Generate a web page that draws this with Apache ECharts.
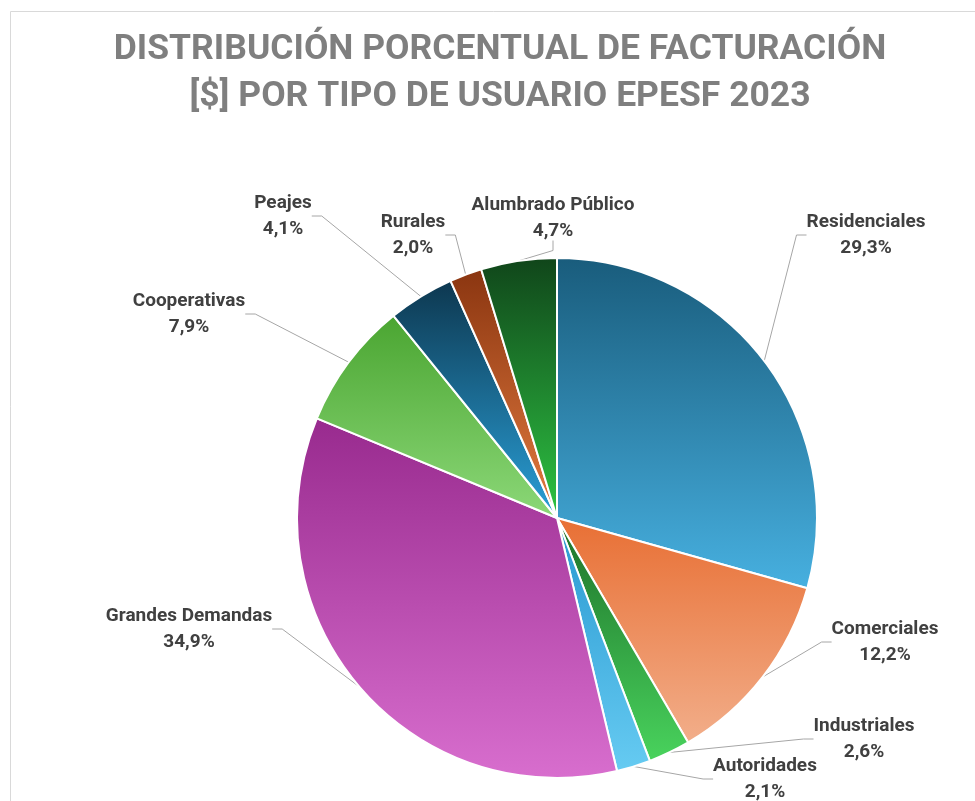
<!DOCTYPE html>
<html>
<head>
<meta charset="utf-8">
<script src="https://cdn.jsdelivr.net/npm/echarts@6/dist/echarts.min.js"></script>
<style>
  html, body { margin: 0; padding: 0; background: #fff; }
  #visual { width: 975px; height: 801px; }
</style>
</head>
<body>
<div id="visual"></div>
<script>
var categories = ['Residenciales', 'Comerciales', 'Industriales', 'Autoridades', 'Grandes Demandas', 'Cooperativas', 'Peajes', 'Rurales', 'Alumbrado Público'];
var values = [29.3, 12.2, 2.6, 2.1, 34.9, 7.9, 4.1, 2.0, 4.7];
// gradient top -> bottom for each slice
var colorTop = ['#195c7c', '#e86f34', '#1d7029', '#2897d0', '#982a8e', '#4aa531', '#0d374f', '#8a3510', '#10451a'];
var colorBottom = ['#47b0e0', '#f2ae8a', '#49d35d', '#66cbf2', '#d86ece', '#8cd878', '#2aa0d8', '#e47c40', '#2ec443'];
// where the labels sit (centre of the two-line block)
var labelPos = [[866, 235], [885, 642], [864, 739], [765, 779], [189, 629], [189, 314], [283, 216], [413, 235], [553, 218]];
var titleText = 'DISTRIBUCIÓN PORCENTUAL DE FACTURACIÓN\n[$] POR TIPO DE USUARIO EPESF 2023';

var chartDom = document.getElementById('visual');
var myChart = echarts.init(chartDom);

var pieData = [];
for (var i = 0; i < categories.length; i++) {
  pieData.push({
    name: categories[i],
    value: values[i],
    itemStyle: {
      color: new echarts.graphic.LinearGradient(0, 0, 0, 1, [
        { offset: 0, color: colorTop[i] },
        { offset: 1, color: colorBottom[i] }
      ])
    }
  });
}

var option = {
  animation: false,
  graphic: [{
    type: 'rect',
    shape: { x: 10.5, y: 11.5, width: 1000, height: 1000 },
    style: { fill: 'none', stroke: '#d9d9d9', lineWidth: 1 },
    z: -10
  }, {
    type: 'text',
    x: 500,
    y: 27,
    style: {
      text: titleText,
      align: 'center',
      verticalAlign: 'top',
      fontFamily: 'Roboto',
      fontWeight: 'bold',
      fontSize: 35.5,
      lineHeight: 47,
      fill: '#7f7f7f'
    }
  }],
  series: [{
    type: 'pie',
    center: [557, 518],
    radius: [0, 260],
    startAngle: 90,
    clockwise: true,
    data: pieData,
    itemStyle: { borderColor: '#fff', borderWidth: 2 },
    label: {
      show: true,
      position: 'outside',
      formatter: function (p) {
        return '{n|' + p.name + '}\n{v|' + p.value.toFixed(1).replace('.', ',') + '%}';
      },
      rich: {
        n: { fontFamily: 'Roboto', fontWeight: 'bold', fontSize: 19, lineHeight: 26, color: '#404040', align: 'center' },
        v: { fontFamily: 'Roboto', fontWeight: 'bold', fontSize: 19, lineHeight: 26, color: '#404040', align: 'center' }
      }
    },
    labelLine: {
      show: true,
      length: 15,
      length2: 10,
      lineStyle: { color: '#a6a6a6', width: 1 }
    },
    labelLayout: function (params) {
      var p = labelPos[params.dataIndex];
      return { x: p[0], y: p[1], align: 'center', verticalAlign: 'middle' };
    },
    emphasis: { disabled: true }
  }]
};

myChart.setOption(option);
</script>
</body>
</html>
